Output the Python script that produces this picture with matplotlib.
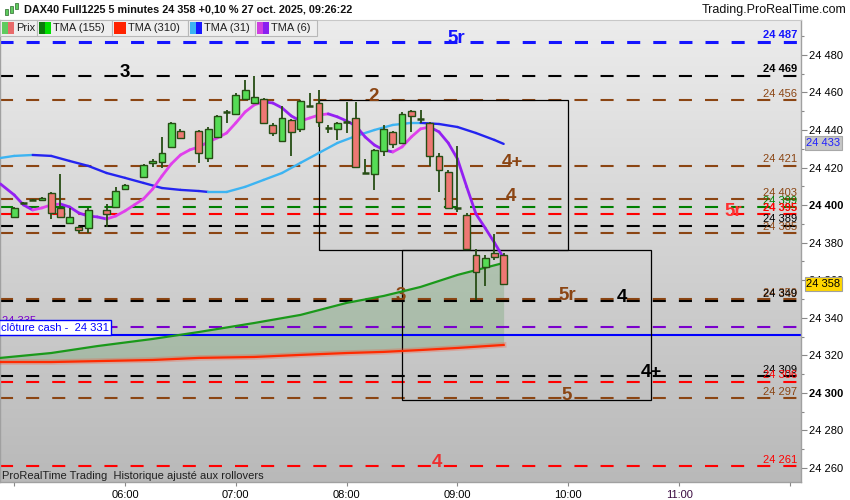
import matplotlib.pyplot as plt
import numpy as np
from matplotlib.patches import Rectangle
from matplotlib.collections import LineCollection
from matplotlib.colors import LinearSegmentedColormap
import matplotlib.transforms as mtransforms

plt.rcParams['font.family'] = ['Liberation Sans', 'DejaVu Sans']
plt.rcParams['lines.scale_dashes'] = False

# 5 minute bars, index 0 = 05:00 (nan = no bar)
nan = np.nan
opens = [24393.7, 24401.0, 24402.7, 24402.7, 24406.5, 24398.5, 24390.5, 24388.4, 24387.8, nan,
         24397.4, 24399.0, 24408.6, nan, 24415.0, 24422.5, 24423.0, 24431.0, 24439.5, nan,
         24439.5, 24425.1, 24436.3, 24449.6, 24448.6, 24456.6, 24454.4, 24456.6, 24442.7, 24434.2,
         24445.4, 24440.6, 24452.8, 24454.4, 24441.1, 24440.6, 24444.3, 24446.4, 24417.1, 24416.6,
         24428.9, 24439.0, 24433.1, 24450.2, 24445.9, 24443.8, 24426.2, 24417.7, 24398.5, 24394.8,
         24373.4, 24367.0, 24374.5, 24373.4]
highs = [24399.0, 24401.5, 24403.2, 24404.3, 24407.0, 24416.6, 24398.5, 24388.9, 24398.5, nan,
         24400.6, 24409.7, 24411.2, nan, 24421.9, 24424.6, 24436.3, 24444.3, 24440.6, nan,
         24440.0, 24441.6, 24448.0, 24450.7, 24459.8, 24466.7, 24468.8, 24457.1, 24443.8, 24452.8,
         24445.9, 24456.0, 24459.8, 24461.4, 24442.7, 24444.3, 24455.0, 24455.0, 24424.6, 24429.9,
         24442.7, 24439.5, 24449.6, 24450.7, 24450.7, 24444.3, 24427.8, 24418.7, 24431.5, 24395.8,
         24376.7, 24373.4, 24384.6, 24374.5]
lows = [24393.2, 24400.5, 24402.2, 24402.2, 24392.6, 24393.7, 24390.0, 24385.2, 24385.2, nan,
        24388.4, 24398.5, 24408.1, nan, 24414.5, 24420.3, 24419.8, 24430.5, 24435.3, nan,
        24422.5, 24423.0, 24435.8, 24443.8, 24448.1, 24456.1, 24453.9, 24443.3, 24436.8, 24433.7,
        24426.2, 24439.0, 24452.3, 24441.6, 24438.4, 24434.7, 24438.4, 24419.8, 24416.6, 24408.1,
        24426.2, 24430.4, 24432.6, 24439.0, 24443.8, 24420.9, 24407.0, 24398.0, 24396.4, 24376.2,
        24349.5, 24356.9, 24370.8, 24357.5]
closes = [24398.5, 24401.0, 24402.7, 24403.8, 24395.8, 24393.7, 24393.7, 24386.8, 24397.4, nan,
          24395.3, 24407.5, 24410.7, nan, 24421.4, 24423.5, 24427.8, 24443.8, 24435.8, nan,
          24427.8, 24440.6, 24447.5, 24449.6, 24458.7, 24461.4, 24457.6, 24443.8, 24438.4, 24446.4,
          24439.0, 24455.5, 24452.8, 24444.3, 24441.1, 24443.8, 24444.3, 24420.3, 24417.1, 24429.4,
          24440.6, 24432.6, 24448.6, 24447.5, 24445.9, 24426.2, 24418.7, 24398.5, 24398.0, 24376.7,
          24364.4, 24371.8, 24372.4, 24358.0]

# moving averages
tma6_idx = [-1.5] + list(range(54))
tma6 = [24411.3, 24405.4, 24400.1, 24397.4, 24398.5, 24400.1, 24400.6, 24399.0, 24395.8, 24394.2,
        24393.7, 24392.6, 24394.2, 24396.9, 24400.1, 24403.3, 24408.6, 24415.5, 24421.9, 24426.7,
        24429.4, 24431.0, 24433.6, 24435.8, 24438.4, 24443.8, 24449.6, 24453.4, 24455.0, 24454.4,
        24451.8, 24447.5, 24444.8, 24446.4, 24448.0, 24448.6, 24447.0, 24444.8, 24442.2, 24436.3,
        24432.0, 24429.4, 24428.3, 24431.0, 24436.3, 24440.6, 24441.6, 24439.0, 24433.1, 24424.6,
        24409.7, 24395.3, 24387.8, 24380.0, 24371.8]
tma31_idx = [-1.5, 0, 2, 4, 6, 8, 10, 12, 14, 16, 18, 20, 21, 23, 25, 27, 29, 31, 33, 35,
             37, 39, 41, 43, 44, 46, 48, 50, 52, 53]
tma31 = [24425.1, 24426.2, 24426.7, 24426.2, 24423.5, 24420.9, 24417.1, 24414.5, 24411.8, 24409.1,
         24408.1, 24407.5, 24407.0, 24407.0, 24409.7, 24413.4, 24417.1, 24422.5, 24427.8, 24433.1,
         24436.8, 24440.0, 24442.7, 24443.8, 24443.8, 24443.2, 24441.6, 24438.4, 24434.7, 24432.6]
tma_slow_idx = [-1.5, 4, 9, 15, 20, 26, 31, 36, 40, 44, 48, 53]
tma155 = [24318.6, 24321.2, 24324.9, 24328.7, 24332.4, 24337.2, 24341.5, 24347.9, 24351.6,
          24356.4, 24362.8, 24369.2]
tma310 = [24316.4, 24316.4, 24316.9, 24317.5, 24318.6, 24319.1, 24320.2, 24321.2, 24321.8,
          24322.8, 24323.9, 24325.5]

# horizontal levels
BLUE, BLACK, BROWN, GREEN, RED, PURPLE = '#1414ff', '#000000', '#8b4513', '#008000', '#ff0000', '#7a00cc'
level_values = [24487, 24469, 24456, 24421, 24403, 24399, 24395, 24389, 24385,
                24350, 24349, 24335, 24309, 24306, 24297, 24261]
level_colors = [BLUE, BLACK, BROWN, BROWN, BROWN, GREEN, RED, BLACK, BROWN,
                BROWN, BLACK, PURPLE, BLACK, RED, BROWN, RED]
level_bold = [24487, 24469, 24395]
close_cash = 24331

ann_labels = ['5r', '3', '2', '4+', '4', '5r', '3', '5r', '4', '4+', '5', '4']
ann_x = [47.9, 12.0, 38.9, 53.9, 53.8, 77.9, 41.9, 59.9, 65.8, 69.0, 59.8, 45.8]
ann_level = [24487, 24469, 24456, 24421, 24403, 24395, 24350, 24350, 24349, 24309, 24297, 24261]
ann_colors = [BLUE, BLACK, BROWN, BROWN, BROWN, '#ff3030', BROWN, BROWN, BLACK, BLACK, BROWN, '#ee3030']

box_t0 = [33, 42]
box_t1 = [60, 69]
box_lo = [24376, 24296]
box_hi = [24456, 24376]

hour_ticks = [0, 12, 24, 36, 48, 60, 72, 84]
hour_labels = ['', '06:00', '07:00', '08:00', '09:00', '10:00', '11:00', '']
price_ticks = list(range(24260, 24481, 20))

last_price = 24358
tma31_last = 24433

W, H = 850, 500
fig = plt.figure(figsize=(W / 100, H / 100), dpi=100)
fig.patch.set_facecolor('white')


def fx(x):
    return x / W


def fy(y):
    return 1 - y / H


ax = fig.add_axes([0, fy(482), fx(801), (482 - 20) / H])
xmin, xmax = -1.54, 85.2
ymin, ymax = 24252.5, 24498.6
ax.set_xlim(xmin, xmax)
ax.set_ylim(ymin, ymax)

# gradient background
bg = LinearSegmentedColormap.from_list('bg', ['#ececec', '#b9b9b9'])
ax.imshow(np.linspace(0, 1, 256).reshape(-1, 1), cmap=bg, aspect='auto',
          extent=[xmin, xmax, ymin, ymax], origin='upper', zorder=0)

# levels
for lv, col in zip(level_values, level_colors):
    lw = 2.2 if col == BLUE else 1.5
    ax.axhline(lv, color=col, lw=lw, dashes=(9.4, 9.4), zorder=2)
    if lv == 24335:
        ax.text(xmin + 0.2, lv + 0.8, '24 335', color=col, fontsize=8, ha='left', va='bottom', zorder=3)
        continue
    ax.annotate(f'{lv:,}'.replace(',', ' '), xy=(84.8, lv), xytext=(0, 1), textcoords='offset points',
                ha='right', va='bottom', fontsize=8, color=col,
                fontweight='bold' if lv in level_bold else 'normal', zorder=3)
ax.axhline(close_cash, color='#0000ff', lw=1.5, zorder=2)
ax.text(xmin + 0.15, close_cash + 1.1, 'clôture cash -  24 331', color='#0000ff', fontsize=8,
        ha='left', va='bottom', zorder=6,
        bbox=dict(boxstyle='square,pad=0.2', fc='white', ec='#0000ff', lw=1))

for lab, x, lv, col in zip(ann_labels, ann_x, ann_level, ann_colors):
    ax.text(x, lv + 1.8, lab, color=col, fontsize=13.5, fontweight='bold',
            ha='center', va='center', zorder=4)

for t0, t1, lo, hi in zip(box_t0, box_t1, box_lo, box_hi):
    ax.add_patch(Rectangle((t0, lo), t1 - t0, hi - lo, fill=False, ec='black', lw=0.9, zorder=3))

# moving averages
ax.fill_between(tma_slow_idx, tma155, tma310, color='#3d8f3d', alpha=0.22, lw=0, zorder=1)
ax.plot(tma_slow_idx, tma310, color='#ff4020', lw=4, alpha=0.25, zorder=5)
ax.plot(tma_slow_idx, tma310, color='#ff2a00', lw=1.6, zorder=5)
ax.plot(tma_slow_idx, tma155, color='#1a991a', lw=1.6, zorder=5)


def slope_line(xs, ys, up, down, lw):
    xs = np.asarray(xs, float)
    ys = np.asarray(ys, float)
    pts = np.column_stack([xs, ys]).reshape(-1, 1, 2)
    segs = np.concatenate([pts[:-1], pts[1:]], axis=1)
    cols = [up if b >= a else down for a, b in zip(ys[:-1], ys[1:])]
    ax.add_collection(LineCollection(segs, colors=cols, lw=lw, capstyle='round', zorder=6))


slope_line(tma31_idx, tma31, '#3db4f2', '#2424f0', 1.7)

# candles
wick_col = '#264d14'
for i, (o, h, l, c) in enumerate(zip(opens, highs, lows, closes)):
    if np.isnan(o):
        continue
    ax.plot([i, i], [l, h], color=wick_col, lw=1.3, zorder=7, solid_capstyle='butt')
    if abs(c - o) < 0.6:
        ax.plot([i - 0.38, i + 0.38], [o, o], color=wick_col, lw=1.8, zorder=8, solid_capstyle='butt')
    else:
        fc = '#55dc55' if c > o else '#ee7873'
        ax.add_patch(Rectangle((i - 0.37, min(o, c)), 0.74, abs(c - o), fc=fc, ec=wick_col,
                               lw=1.0, zorder=8))

slope_line(tma6_idx, tma6, '#e040ec', '#9420f2', 2.0)

# axes styling
ax.yaxis.tick_right()
ax.set_yticks(price_ticks, labels=[f'{v:,}'.replace(',', ' ') for v in price_ticks])
ax.set_yticks(list(range(24260, 24491, 10)), minor=True)
for lbl in ax.get_yticklabels():
    if lbl.get_text() in ('24 300', '24 400'):
        lbl.set_fontweight('bold')
ax.tick_params(axis='y', which='major', length=4, width=0.8, color='#888888', labelsize=8, pad=1.5)
ax.tick_params(axis='y', which='minor', length=2.5, width=0.8, color='#888888')
ax.set_xticks(hour_ticks, labels=hour_labels)
ax.tick_params(axis='x', length=3, width=0.8, color='#888888', labelsize=8, pad=3)
ax.get_xticklabels()[6].set_color('#3a0a40')
ax.spines['top'].set_color('#c8c8c8')
for s in ['left', 'right', 'bottom']:
    ax.spines[s].set_color('#a0a0a0')
    ax.spines[s].set_linewidth(1)

ax.text(2 / 801, 6 / 462, 'ProRealTime Trading  Historique ajusté aux rollovers', transform=ax.transAxes,
        fontsize=8, color='#202020', ha='left', va='center', zorder=9)

# price tags on the right axis
tr = mtransforms.blended_transform_factory(ax.transAxes, ax.transData)
ax.text(1.0065, tma31_last, f'{tma31_last:,}'.replace(',', ' '), transform=tr, fontsize=8, color='#2020ff',
        ha='left', va='center', clip_on=False, zorder=10,
        bbox=dict(boxstyle='square,pad=0.15', fc='#c6c6c6', ec='#a8a8a8', lw=0.8))
ax.text(1.0065, last_price, f'{last_price:,}'.replace(',', ' '), transform=tr, fontsize=8, color='black',
        ha='left', va='center', clip_on=False, zorder=10,
        bbox=dict(boxstyle='square,pad=0.15', fc='#ffd700', ec='#a0a0a0', lw=0.8))

# legend boxes over the top of the plot
legend_items = [('Prix', '#5ecb5e', '#e86a6a', 0, 37), ('TMA (155)', '#0b7a0b', '#00e000', 37, 112),
                ('TMA (310)', '#ff2200', '#ff2200', 112, 188), ('TMA (31)', '#3db4f2', '#1818ff', 188, 255),
                ('TMA (6)', '#d040e0', '#8a20f0', 255, 317)]
for name, c1, c2, x0, x1 in legend_items:
    fig.add_artist(Rectangle((fx(x0), fy(36)), fx(x1 - x0), 16 / H, transform=fig.transFigure,
                             fc='#eeeeee', ec='#b8b8b8', lw=0.8, zorder=5))
    fig.add_artist(Rectangle((fx(x0 + 2), fy(34)), fx(6), 12 / H, transform=fig.transFigure, fc=c1,
                             ec='none', zorder=6))
    fig.add_artist(Rectangle((fx(x0 + 8), fy(34)), fx(6), 12 / H, transform=fig.transFigure, fc=c2,
                             ec='none', zorder=6))
    fig.text(fx(x0 + 16), fy(28), name, fontsize=8, color='#202020', ha='left', va='center', zorder=7)

# small candle icon
for x0, y0, h, c in [(5, 9, 6, '#5ecb5e'), (10, 6, 7, '#5ecb5e'), (15, 3, 6, '#5ecb5e')]:
    fig.add_artist(Rectangle((fx(x0), fy(y0 + h)), fx(3), h / H, transform=fig.transFigure, fc=c,
                             ec='#2a6a2a', lw=0.5))
fig.text(fx(24), fy(10), 'DAX40 Full1225 5 minutes 24 358 +0,10 % 27 oct. 2025, 09:26:22',
         fontsize=7.8, fontweight='bold', ha='left', va='center', color='#111111')
fig.text(fx(846), fy(10), 'Trading.ProRealTime.com', fontsize=9, ha='right', va='center', color='#111111')

fig.savefig('out.png', dpi=100)
